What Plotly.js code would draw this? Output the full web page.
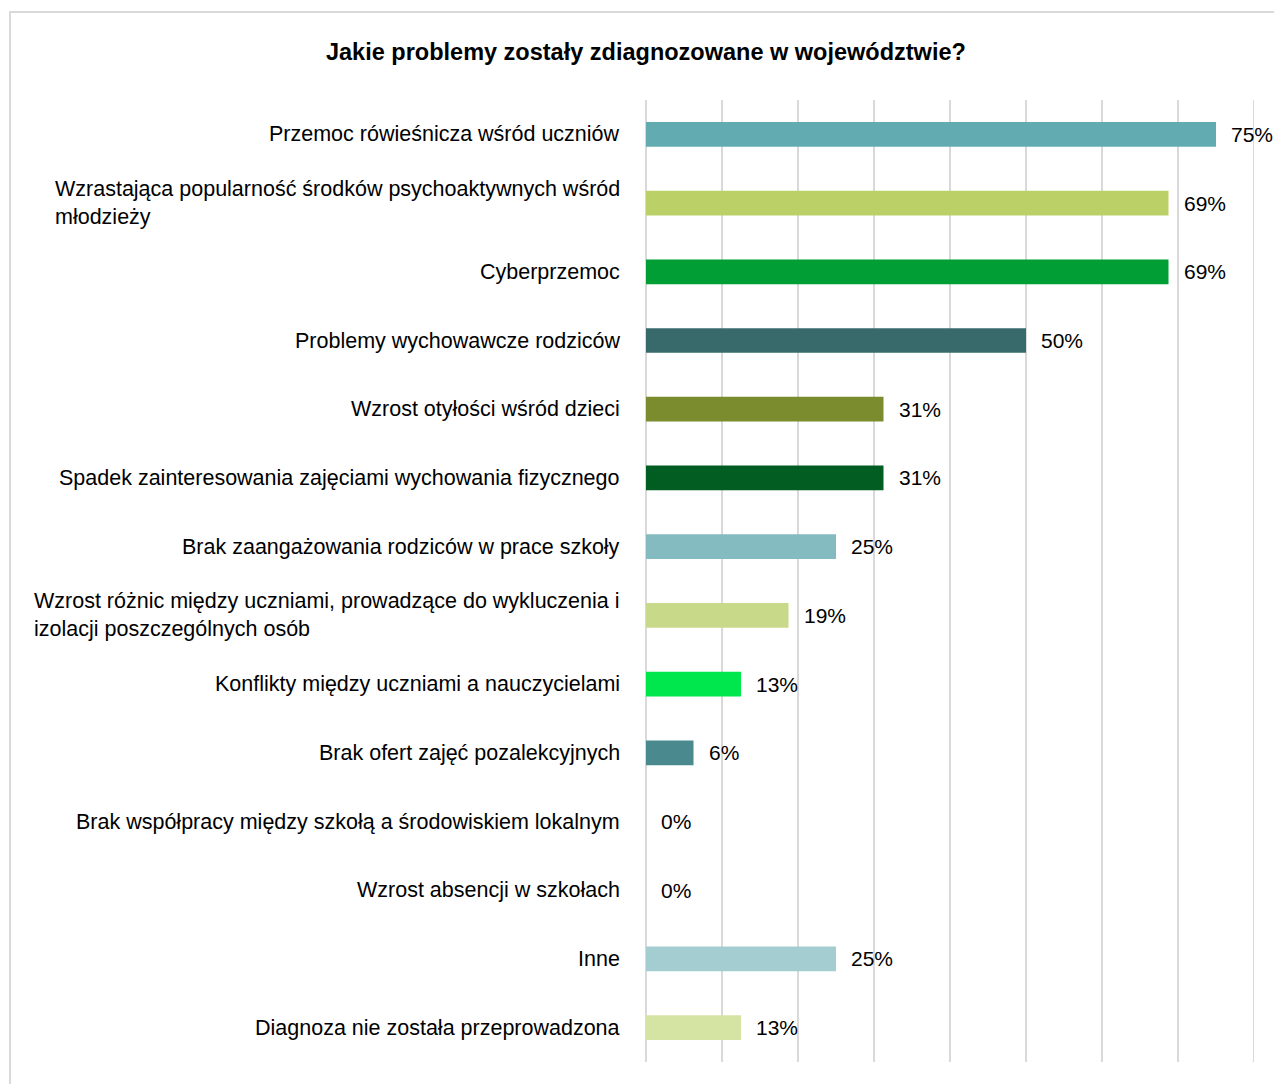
<!DOCTYPE html>
<html>
<head>
<meta charset="utf-8">
<script src="https://cdn.plot.ly/plotly-3.0.1.min.js"></script>
<style>
html,body{margin:0;padding:0;width:1274px;height:1084px;overflow:hidden;background:#fff;}
#frame{position:absolute;left:9px;top:11px;width:1280px;height:1090px;border:2px solid #d9d9d9;box-sizing:border-box;pointer-events:none;z-index:10;}
#chart{position:absolute;left:0;top:0;width:1274px;height:1084px;}
</style>
</head>
<body>
<div id="chart"></div>
<div id="frame"></div>
<script>
const categories = [
  "Przemoc rówieśnicza wśród uczniów",
  "Wzrastająca popularność środków psychoaktywnych wśród<br>młodzieży",
  "Cyberprzemoc",
  "Problemy wychowawcze rodziców",
  "Wzrost otyłości wśród dzieci",
  "Spadek zainteresowania zajęciami wychowania fizycznego",
  "Brak zaangażowania rodziców w prace szkoły",
  "Wzrost różnic między uczniami, prowadzące do wykluczenia i<br>izolacji poszczególnych osób",
  "Konflikty między uczniami a nauczycielami",
  "Brak ofert zajęć pozalekcyjnych",
  "Brak współpracy między szkołą a środowiskiem lokalnym",
  "Wzrost absencji w szkołach",
  "Inne",
  "Diagnoza nie została przeprowadzona"
];
const values = [75, 68.75, 68.75, 50, 31.25, 31.25, 25, 18.75, 12.5, 6.25, 0, 0, 25, 12.5];
const valueLabels = ["75%","69%","69%","50%","31%","31%","25%","19%","13%","6%","0%","0%","25%","13%"];
const colors = ["#62acb1","#bbd168","#009e35","#386a6c","#7a8c2e","#025d22","#84bbc0","#c8d98a","#00e64d","#4a8a8e","#cccccc","#cccccc","#a3cdd0","#d5e4a3"];
const tickVals = [0,10,20,30,40,50,60,70,80];

const FONT = "'Liberation Sans Narrow', 'Arial Narrow', 'Liberation Sans', Arial, sans-serif";
const ids = categories.map((c,i)=>"c"+i);

const trace = {
  type: "bar",
  orientation: "h",
  x: values,
  y: ids,
  marker: {color: colors},
  hoverinfo: "none"
};

const annotations = [];
categories.forEach((c,i)=>{
  annotations.push({
    xref: "paper", yref: "y", x: 0, y: ids[i],
    text: c, showarrow: false, xanchor: "right", yanchor: "middle",
    align: "left", xshift: -24,
    font: {family: FONT, size: 21.5, color: "#000"}
  });
  annotations.push({
    xref: "x", yref: "y", x: values[i], y: ids[i],
    text: valueLabels[i], showarrow: false,
    xanchor: "left", yanchor: "middle", xshift: 13,
    font: {family: FONT, size: 21, color: "#000"}
  });
});

// grid line at the axis end (80%), which Plotly omits at the range edge
const shapes = [{
  type: "line", xref: "x", yref: "paper",
  x0: tickVals[tickVals.length-1], x1: tickVals[tickVals.length-1], y0: 0, y1: 1,
  line: {color: "#d9d9d9", width: 2}, layer: "below"
}];

const layout = {
  width: 1274, height: 1084,
  margin: {l: 646, r: 20, t: 100, b: 22},
  paper_bgcolor: "#fff", plot_bgcolor: "#fff",
  showlegend: false,
  bargap: 0.64,
  title: {
    text: "<b>Jakie problemy zostały zdiagnozowane w województwie?</b>",
    x: 0.507, xanchor: "center", y: 1 - 52/1084, yanchor: "middle",
    font: {family: FONT, size: 23.5, color: "#000"}
  },
  xaxis: {
    range: [0, 80], tickvals: tickVals, showticklabels: false,
    showgrid: true, gridcolor: "#d9d9d9", gridwidth: 2,
    zeroline: true, zerolinecolor: "#d9d9d9", zerolinewidth: 2,
    fixedrange: true
  },
  yaxis: {
    categoryorder: "array", categoryarray: ids.slice().reverse(),
    showticklabels: false, showgrid: false, zeroline: false, fixedrange: true
  },
  shapes: shapes,
  annotations: annotations
};

Plotly.newPlot("chart", [trace], layout, {displayModeBar: false, staticPlot: true});
</script>
</body>
</html>
